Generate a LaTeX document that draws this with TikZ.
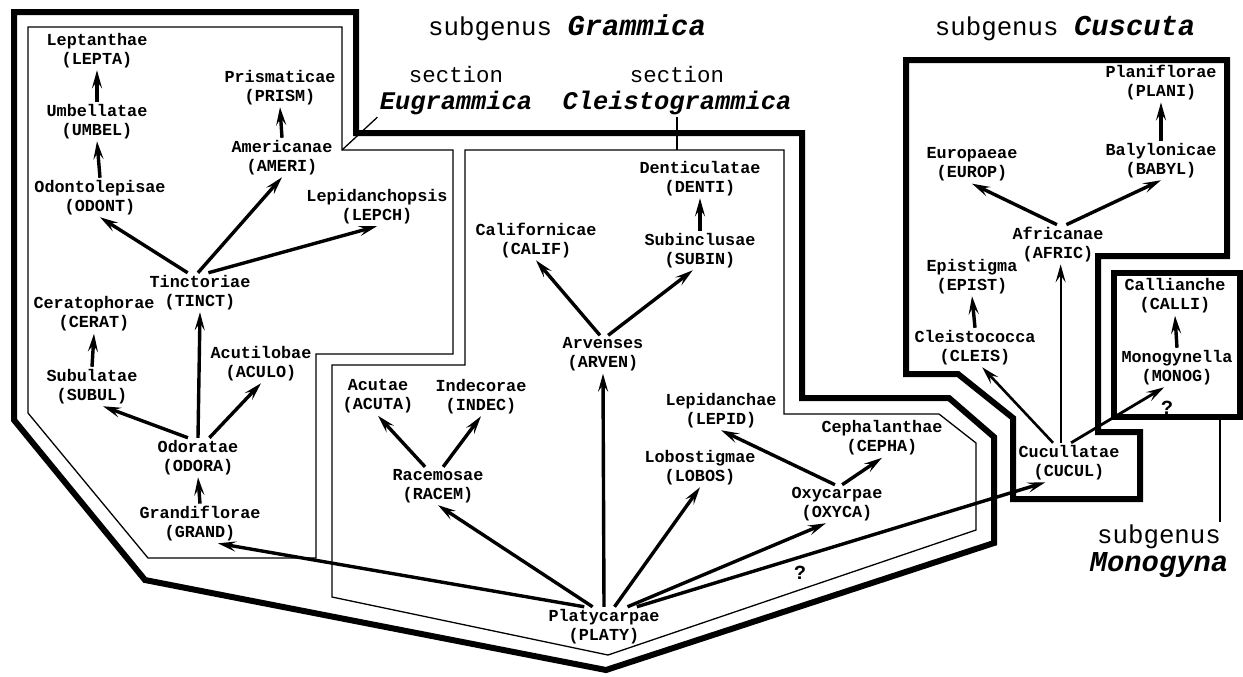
\documentclass[tikz,border=0pt]{standalone}
\usepackage{fontspec}
\setmonofont{Liberation Mono}
\usepackage{tikz}
\usetikzlibrary{arrows.meta}

\newcommand{\taxsec}[1]{{\fontsize{12.7}{13.5}\selectfont\bfseries\itshape #1}}
\newcommand{\taxgen}[1]{{\fontsize{14.4}{14}\selectfont\bfseries\itshape #1}}

\tikzset{
  taxon/.style={font=\ttfamily\bfseries\fontsize{8.4}{9.5}\selectfont, align=center, inner sep=1pt},
  query/.style={font=\ttfamily\bfseries\fontsize{10}{10}\selectfont, inner sep=1pt},
  rankname/.style={font=\ttfamily\fontsize{11.2}{13.5}\selectfont, align=center, inner sep=1pt},
  genusname/.style={font=\ttfamily\fontsize{12.9}{14}\selectfont, align=center, inner sep=1pt},
  link/.style={-{Stealth[length=9pt,width=5pt,inset=3.5pt]}, line width=1.7pt},
  thinlink/.style={link, line width=1pt},
  genusline/.style={line width=3pt},
  sectline/.style={line width=0.65pt}
}

\begin{document}
\begin{tikzpicture}[x=0.5pt, y=-0.5pt]
\useasboundingbox (0,0) rectangle (1243,676);

% subgenus outlines
\draw[genusline] (14,12) -- (356,12) -- (356,133) -- (802,133) -- (802,398) -- (949,398) -- (994,437) -- (994,543) -- (606,670) -- (145,580) -- (14,420) -- cycle;
\draw[genusline] (906,60) -- (1227,60) -- (1227,256) -- (1098,256) -- (1098,432) -- (1140,432) -- (1140,499) -- (1013,499) -- (1013,418) -- (958,374) -- (906,374) -- cycle;
\draw[genusline] (1114,273) rectangle (1240,417);

% section outlines
\draw[sectline] (28,27) -- (342,27) -- (342,150) -- (453,150) -- (453,354) -- (316,354) -- (316,558) -- (148,558) -- (28,413) -- cycle;
\draw[sectline] (465,150) -- (784,150) -- (784,414) -- (939,414) -- (976,443) -- (976,530) -- (608,655) -- (332,597) -- (332,365) -- (465,365) -- cycle;

% titles
\node[genusname] (grammica) at (567,28) {subgenus \taxgen{Grammica}};
\node[genusname] (cuscuta) at (1065,29) {subgenus \taxgen{Cuscuta}};
\node[genusname] (monogyna) at (1159,551) {subgenus\\\taxgen{Monogyna}};
\node[rankname] (eugram) at (456,90.5) {section\\\taxsec{Eugrammica}};
\node[rankname] (cleisto) at (677,90.5) {section\\\taxsec{Cleistogrammica}};

% leaders
\coordinate (eugram-corner) at (342,150);
\coordinate (cleisto-top) at (677,150);
\coordinate (mono-foot) at (1220,417);
\draw[sectline] (eugram.south west) -- (eugram-corner);
\draw[sectline] (cleisto.south) -- (cleisto-top);
\draw[sectline] (mono-foot) -- (mono-foot |- monogyna.north);

% section Eugrammica
\node[taxon] (LEPTA) at (97,50.5) {Leptanthae\\(LEPTA)};
\node[taxon] (UMBEL) at (97,121.5) {Umbellatae\\(UMBEL)};
\node[taxon] (ODONT) at (100,197.5) {Odontolepisae\\(ODONT)};
\node[taxon] (PRISM) at (280,87.5) {Prismaticae\\(PRISM)};
\node[taxon] (AMERI) at (282,157.5) {Americanae\\(AMERI)};
\node[taxon] (LEPCH) at (377,206.5) {Lepidanchopsis\\(LEPCH)};
\node[taxon] (TINCT) at (200,292.5) {Tinctoriae\\(TINCT)};
\node[taxon] (CERAT) at (94,314) {Ceratophorae\\(CERAT)};
\node[taxon] (SUBUL) at (92,386.5) {Subulatae\\(SUBUL)};
\node[taxon] (ACULO) at (261,363.5) {Acutilobae\\(ACULO)};
\node[taxon] (ODORA) at (198,457.5) {Odoratae\\(ODORA)};
\node[taxon] (GRAND) at (200,523.5) {Grandiflorae\\(GRAND)};

% section Cleistogrammica
\node[taxon] (DENTI) at (700,178.5) {Denticulatae\\(DENTI)};
\node[taxon] (SUBIN) at (700,250.5) {Subinclusae\\(SUBIN)};
\node[taxon] (CALIF) at (536,240.5) {Californicae\\(CALIF)};
\node[taxon] (ARVEN) at (603,354.5) {Arvenses\\(ARVEN)};
\node[taxon] (ACUTA) at (378,396.5) {Acutae\\(ACUTA)};
\node[taxon] (INDEC) at (481,396.5) {Indecorae\\(INDEC)};
\node[taxon] (RACEM) at (438,486) {Racemosae\\(RACEM)};
\node[taxon] (LEPID) at (721,410.5) {Lepidanchae\\(LEPID)};
\node[taxon] (LOBOS) at (700,467.5) {Lobostigmae\\(LOBOS)};
\node[taxon] (CEPHA) at (882,438) {Cephalanthae\\(CEPHA)};
\node[taxon] (OXYCA) at (837,504) {Oxycarpae\\(OXYCA)};
\node[taxon] (PLATY) at (604,626.5) {Platycarpae\\(PLATY)};

% subgenera Cuscuta and Monogyna
\node[taxon] (PLANI) at (1161,82.5) {Planiflorae\\(PLANI)};
\node[taxon] (BABYL) at (1161,160.5) {Balylonicae\\(BABYL)};
\node[taxon] (EUROP) at (972,164.5) {Europaeae\\(EUROP)};
\node[taxon] (AFRIC) at (1058,244.5) {Africanae\\(AFRIC)};
\node[taxon] (EPIST) at (972,276.5) {Epistigma\\(EPIST)};
\node[taxon] (CLEIS) at (975,347.5) {Cleistococca\\(CLEIS)};
\node[taxon] (CUCUL) at (1069,462.5) {Cucullatae\\(CUCUL)};
\node[taxon] (CALLI) at (1175,296) {Callianche\\(CALLI)};
\node[taxon] (MONOG) at (1177,367.5) {Monogynella\\(MONOG)};

\node[query] (qcucul) at (800,573) {?};
\node[query] (qmonog) at (1167,408) {?};

% arrows
\draw[link] (UMBEL.north) -- (LEPTA.south);
\draw[link] (ODONT.north) -- (UMBEL.south);
\draw[link] (TINCT.122) -- (ODONT.south);
\draw[link] (TINCT.96) -- (AMERI.south);
\draw[link] (TINCT.67) -- (LEPCH.south);
\draw[link] (AMERI.north) -- (PRISM.south);
\draw[link] (SUBUL.north) -- (CERAT.south);
\draw[link] (ODORA.117) -- (SUBUL.299);
\draw[link] (ODORA.north) -- (TINCT.south);
\draw[link] (ODORA.60) -- (ACULO.south);
\draw[link] (GRAND.north) -- (ODORA.south);
\draw[link] (PLATY.135) -- (GRAND.312);
\draw[link] (PLATY.120) -- (RACEM.south);
\draw[link] (RACEM.124) -- (ACUTA.south);
\draw[link] (RACEM.75) -- (INDEC.south);
\draw[link] (PLATY.north) -- (ARVEN.south);
\draw[link] (ARVEN.99) -- (CALIF.south);
\draw[link] (ARVEN.75) -- (SUBIN.250);
\draw[link] (SUBIN.north) -- (DENTI.south);
\draw[link] (PLATY.62) -- (LOBOS.south);
\draw[link] (PLATY.40) -- (OXYCA.240);
\draw[link] (OXYCA.96) -- (LEPID.south);
\draw[link] (OXYCA.75) -- (CEPHA.south);
\draw[link] (PLATY.31) -- (CUCUL.220);
\draw[link, line width=1.3pt] (CUCUL.129) -- (CLEIS.290);
\draw[thinlink] (CUCUL.113) -- (CUCUL.113 |- AFRIC.south);
\draw[link, line width=1.4pt] (CUCUL.84) -- (MONOG.237);
\draw[link] (CLEIS.north) -- (EPIST.south);
\draw[link] (AFRIC.93) -- (EUROP.south);
\draw[link] (AFRIC.67) -- (BABYL.south);
\draw[link] (BABYL.north) -- (PLANI.south);
\draw[link] (MONOG.north) -- (CALLI.south);
\end{tikzpicture}
\end{document}
